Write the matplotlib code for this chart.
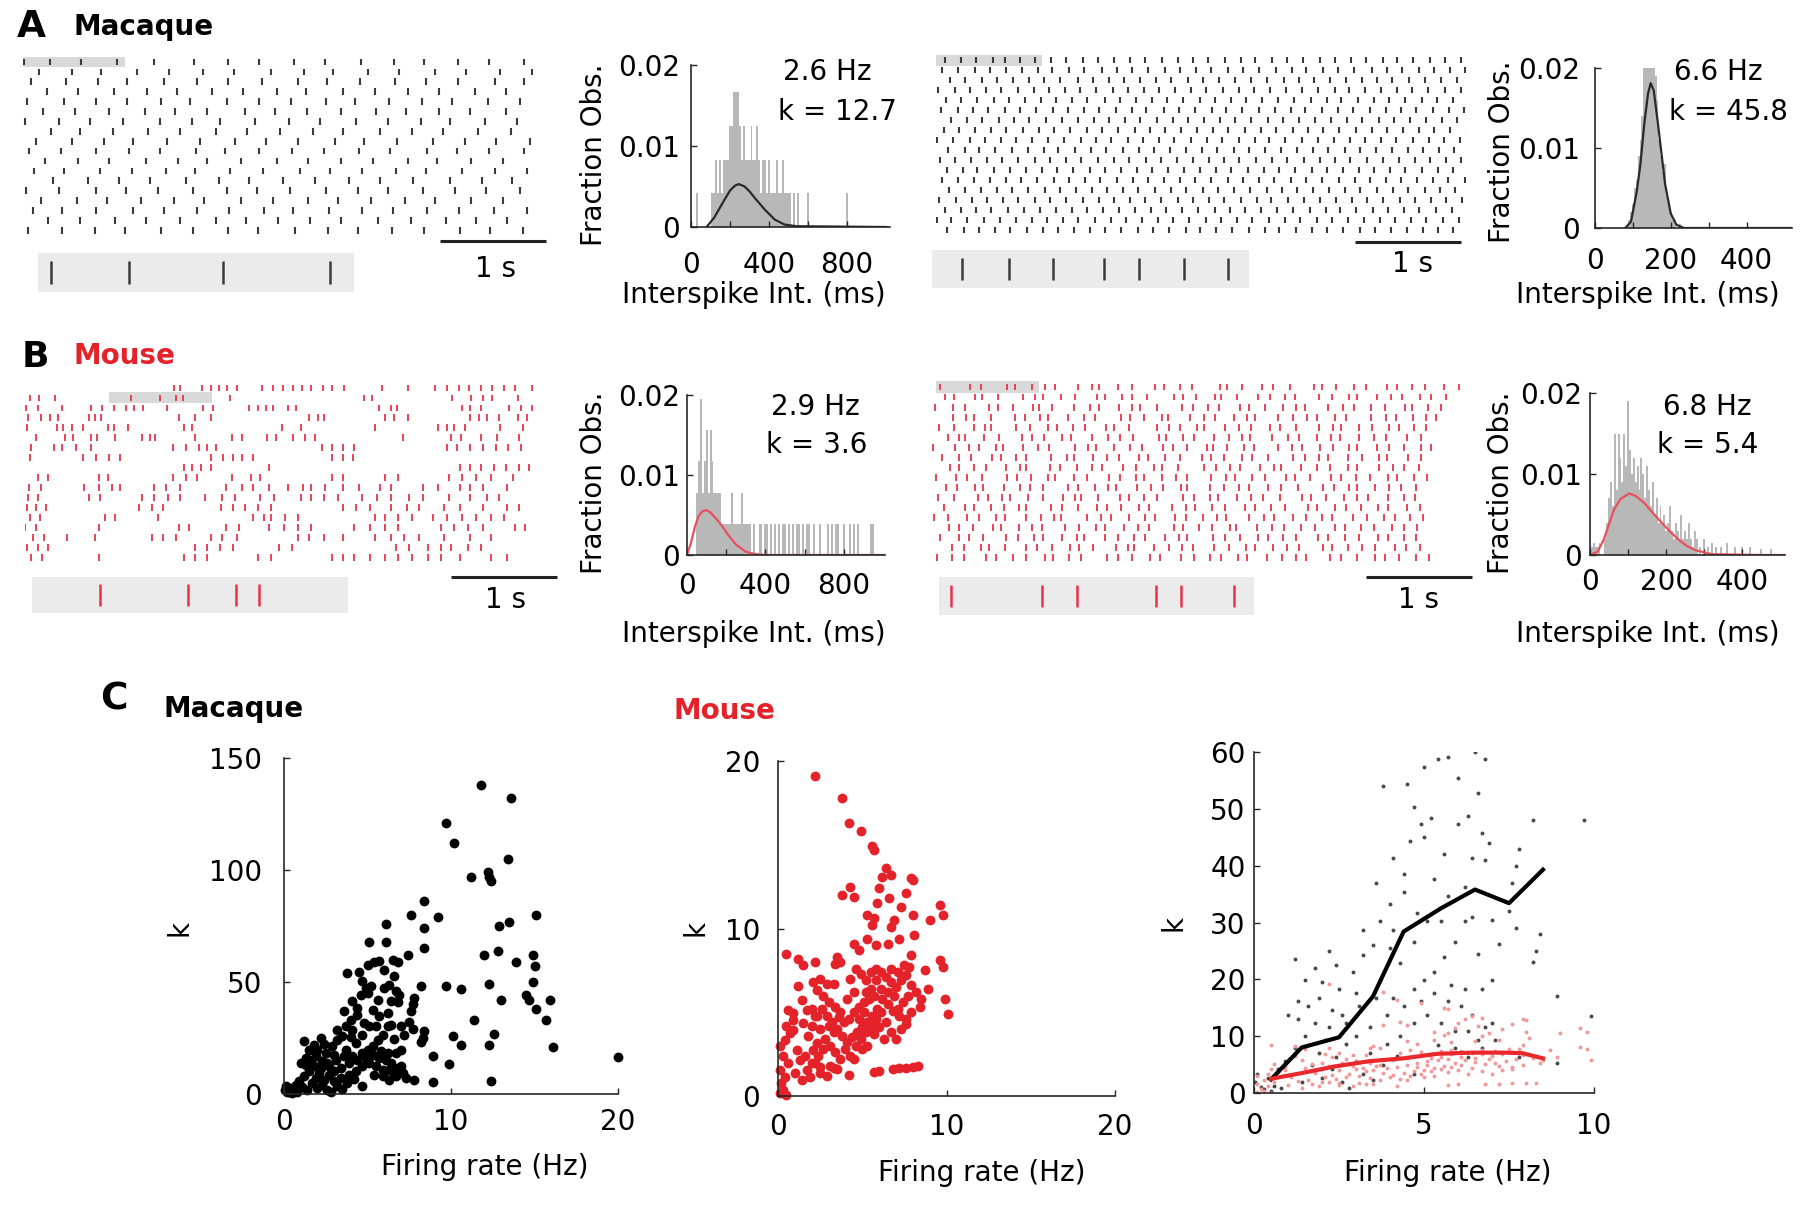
import matplotlib.pyplot as plt
import numpy as np
from matplotlib.patches import Rectangle

plt.rcParams['font.family'] = ['DejaVu Sans']
plt.rcParams['font.size'] = 20

W, H = 1800, 1209
RED = '#e3222a'

# ---------------- data ----------------
# A: macaque rasters, interspike intervals in ms (first value = first spike time)
mac_slow_isi = [
    "10 245 295 334 356 370 320 300 330 290 340 310 280 320 300 330",
    "150 310 280 340 300 320 290 350 310 270 330 300 340 290 320 300",
    "80 330 300 270 350 310 290 320 340 280 310 330 290 300 350 280",
    "230 290 340 310 280 330 300 320 270 350 300 310 290 340 300",
    "40 350 300 290 320 280 340 310 300 330 270 320 310 290 340 300",
    "190 300 320 340 280 310 350 290 300 320 330 280 310 300 340",
    "20 320 290 310 350 300 270 330 320 290 340 300 310 280 330 300",
    "260 280 310 330 300 340 290 310 320 280 350 300 290 330 310",
    "120 340 300 280 320 310 330 290 300 350 280 310 340 300 290 320",
    "60 300 330 310 290 340 280 320 310 300 330 290 350 280 310 330",
    "210 310 290 350 300 280 320 340 290 310 300 330 280 320 300",
    "100 290 340 300 320 270 330 310 350 290 300 320 280 340 310 300",
    "280 330 300 290 340 310 280 320 300 330 290 310 350 300 280",
    "30 310 350 280 300 330 320 290 310 340 300 280 330 310 290 320",
    "170 340 280 320 310 290 350 300 330 280 310 320 290 340 300",
    "90 280 320 350 290 310 300 330 280 340 310 290 320 300 330 310",
    "240 300 330 290 320 340 280 310 300 290 350 310 330 280 300",
    "50 320 310 280 340 300 330 290 350 310 280 320 300 340 290 310",
]
mac_fast_isi = [
    "85 151 141 161 113 141 142 150 145 160 135 155 150 140 165 145 150 135 160 150 140 155 145 150 160 140 150 145 155 135 150 160 145 150",
    "60 150 155 140 160 150 145 135 155 150 165 145 140 150 160 145 150 140 155 150 145 160 150 140 155 145 150 165 140 150 155 145 150 140",
    "130 140 160 150 145 155 140 150 165 145 150 140 155 150 145 160 140 150 155 145 150 160 145 140 150 155 145 150 140 160 150 145 155",
    "20 155 145 150 140 160 150 145 155 140 150 160 145 150 135 155 150 145 160 150 140 155 145 150 150 160 140 145 155 150 145 150 160 145",
    "90 145 150 160 140 150 155 145 150 140 165 150 145 155 140 150 160 145 150 140 155 150 145 160 150 140 155 150 145 150 160 140 150",
    "45 160 140 150 155 145 150 160 140 150 145 155 150 140 165 145 150 155 140 150 160 145 150 140 155 150 145 160 150 145 140 155 150 145",
    "140 150 145 155 150 140 160 145 150 155 140 150 145 160 150 140 155 150 145 150 160 140 150 155 145 150 140 160 150 145 155 150 140",
    "75 140 155 150 145 160 150 140 150 155 145 150 160 140 150 145 155 150 140 160 150 145 155 140 150 150 160 145 140 155 150 145 150 160",
    "10 150 160 145 150 140 155 150 145 160 140 150 155 145 150 140 160 150 145 155 150 140 150 160 145 150 155 140 150 145 160 150 140 155",
    "115 155 140 150 160 145 150 140 155 150 145 160 150 140 150 155 145 150 160 140 150 145 155 150 140 160 145 150 155 150 140 150 145",
    "35 145 150 155 140 150 160 145 150 140 155 150 145 160 140 150 150 155 145 140 160 150 145 155 150 140 150 160 145 150 155 140 150 145",
    "100 150 140 160 150 145 155 140 150 160 145 150 155 140 150 145 160 150 140 155 150 145 150 160 140 150 155 145 150 140 160 150 145",
    "55 155 150 145 160 140 150 155 145 150 140 160 150 145 155 150 140 150 160 145 150 140 155 150 145 160 150 140 155 145 150 150 140 160",
    "125 145 155 150 140 150 160 145 150 155 140 150 145 160 150 140 155 150 145 150 160 140 150 145 155 150 140 160 150 145 155 140 150",
    "30 160 145 150 150 140 155 150 145 160 150 140 155 145 150 160 140 150 145 155 150 140 160 150 145 150 155 140 150 160 145 150 140 155",
    "85 150 145 140 160 150 155 145 150 140 160 150 145 155 140 150 150 160 145 140 155 150 145 160 150 140 150 155 145 150 140 160 150",
    "5 140 150 160 145 150 155 140 150 145 160 150 140 155 150 145 150 160 140 150 145 155 150 140 160 150 145 155 150 140 150 145 160 150",
    "105 155 145 150 140 160 150 145 155 150 140 150 160 145 150 155 140 150 145 160 150 140 155 150 145 150 160 140 150 155 145 150 140",
]
# B: mouse rasters (slow cell: spike times in units of 10 ms; fast cell: intervals in ms)
mouse_slow_cs = [
    "141 146 167 175 183 191 200 224 234 243 253 261 270 281 290 301 337 361 387 398 409 419 430 441 452 462 478",
    "5 13 28 100 127 142 149 193 320 327 403 421 432 441 465",
    "1 12 35 62 73 84 95 103 111 134 168 177 211 220 227 234 248 256 334 345 351 412 420 430 457 468 478",
    "3 15 24 31 60 66 72 145 160 175 268 276 282 340 348 361 420 428 436 447 465 474",
    "2 30 36 44 55 78 84 97 150 158 242 260 330 390 398 405 415 448 470",
    "10 38 45 62 68 85 110 118 123 160 195 205 228 237 253 264 274 357 402 411 430 445 466",
    "6 27 35 48 62 140 152 164 172 180 280 290 300 310 398 408 420 432 444 456 468",
    "5 55 67 79 90 175 187 196 205 215 290 300 309",
    "150 158 166 175 230 410 420 430 442 454 466 475",
    "12 22 70 78 140 152 162 195 213 222 290 300 340 352 400 412 425 440 460",
    "4 15 56 70 82 90 122 133 146 190 205 215 230 248 262 270 283 300 315 335 345 375 390 410 420 432 455",
    "3 12 60 71 110 122 135 146 170 186 198 222 235 260 270 282 295 318 332 345 362 375 400 420 436 447",
    "2 10 20 108 120 130 185 196 208 220 232 300 312 325 345 360 372 395 410 432 455 466",
    "5 14 75 85 125 215 225 232 245 258 330 340 352 365 385 398 412 425 440 452",
    "0 10 70 145 155 190 202 230 244 258 270 310 325 340 352 392 405 418 432 462 472",
    "8 18 40 66 120 130 142 175 186 200 258 268 282 300 330 345 358 372 395 420 440",
    "2 12 22 160 172 184 196 240 252 350 362 380 392 402 418 430",
    "6 16 70 150 160 172 220 232 290 300 310 325 340 352 365 380 392 410 440 455",
]
mouse_fast_isi = [
    "74 282 107 245 76 164 120 95 210 140 60 180 130 220 90 150 110 260 70 140 190 100 160 230 80 130 170 110 200 90 150 120 180 140 130 150",
    "120 90 200 60 150 240 110 80 170 130 210 70 160 100 140 250 90 120 180 60 150 200 110 140 90 230 120 160 80 190 130 100 170 110 140",
    "30 170 110 230 80 140 190 60 120 210 150 90 180 130 70 160 240 100 140 110 200 80 150 170 120 90 220 140 100 160 130 190 70 150 120",
    "200 120 80 160 220 100 140 70 190 150 110 240 90 130 170 60 200 140 100 180 120 80 210 150 130 90 170 110 230 140 100 160 120 90",
    "70 140 190 100 60 230 130 170 90 150 110 200 80 140 260 120 100 160 70 190 140 110 180 90 150 220 130 80 170 120 160 100 140 110",
    "150 100 60 180 140 220 90 120 170 80 200 150 110 130 240 70 160 100 190 140 120 80 210 150 100 170 130 90 180 140 110 200 130",
    "10 210 130 90 160 70 190 140 100 250 120 80 170 150 110 200 90 140 180 60 130 160 100 220 140 90 170 120 150 80 190 110 140 160 100",
    "90 160 120 200 80 140 100 230 150 70 180 130 110 190 90 160 140 210 80 120 170 100 150 240 110 130 90 180 140 160 70 200 120",
    "170 80 150 110 190 130 60 220 100 160 140 90 200 120 170 80 150 250 110 130 100 180 140 60 190 150 120 170 90 210 130 100 140",
    "40 190 100 140 240 90 130 160 70 180 120 210 100 150 80 170 130 110 220 140 90 160 120 200 80 150 190 100 140 130 170 90 160 120",
    "130 110 170 70 200 150 90 130 230 100 160 120 80 190 140 110 170 60 210 130 150 90 180 120 160 240 100 140 80 170 130 110 150",
    "60 150 220 100 130 80 170 140 190 110 60 160 200 90 140 120 250 100 150 80 180 130 110 160 210 90 140 170 120 100 190 150 110",
    "110 200 90 160 120 140 70 230 110 150 180 90 130 170 100 210 140 80 160 120 190 100 150 130 220 80 170 110 140 160 90 180 120",
    "20 130 180 110 160 90 200 140 120 70 240 130 100 170 150 90 190 110 160 130 80 220 140 100 180 120 150 90 200 130 160 110 140 120",
    "160 90 140 190 70 170 120 100 210 140 160 80 180 130 110 230 90 150 120 170 60 200 140 110 160 130 190 100 150 120 170 110 130",
    "80 170 100 130 220 110 150 90 180 140 60 200 120 160 100 190 130 80 240 110 150 170 90 140 120 210 100 160 130 180 90 150 120",
    "190 110 160 80 150 200 100 140 170 90 130 220 110 60 180 150 120 100 200 140 160 90 170 130 110 230 80 150 140 120 190 100 130",
    "50 140 110 210 90 160 130 180 70 150 120 240 100 140 170 90 200 120 150 110 160 80 190 140 130 100 220 110 150 170 90 140 160 120",
]

# ISI histograms (ms, fraction of observations) and gamma fits
a1_ms = [30, 110, 120, 130, 140, 150, 160, 170, 180, 190, 200, 210, 220, 230, 240, 250, 260, 270,
         280, 290, 300, 310, 320, 330, 340, 350, 360, 370, 380, 390, 400, 410, 420, 430, 440, 450,
         460, 470, 480, 490, 500, 510, 530, 550, 600, 800]
a1_n = [1, 1, 1, 2, 1, 2, 1, 2, 2, 2, 3, 3, 4, 4, 4, 3, 2, 3,
        2, 2, 2, 3, 2, 2, 3, 2, 1, 2, 2, 1, 2, 1, 1, 1, 2, 1,
        1, 2, 1, 1, 1, 1, 1, 1, 1, 1]
a1_fit_ms = [80, 120, 170, 200, 225, 245, 275, 300, 330, 380, 430, 480, 540, 1000]
a1_fit = [0, 0.0012, 0.0033, 0.0045, 0.0051, 0.0053, 0.0050, 0.0044, 0.0035, 0.0021, 0.0009, 0.0003, 0.0001, 0]

a2_ms = [90, 95, 100, 105, 110, 115, 120, 125, 130, 135, 140, 145, 150, 155, 160, 165, 170, 175,
         180, 185, 190, 195, 200, 205, 210, 225]
a2_frac = [0.001, 0.002, 0.003, 0.005, 0.006, 0.009, 0.011, 0.014, 0.02, 0.021, 0.021, 0.021, 0.021,
           0.02, 0.019, 0.016, 0.011, 0.009, 0.007, 0.008, 0.004, 0.003, 0.002, 0.001, 0.001, 0.0005]
a2_fit_ms = [80, 95, 110, 120, 130, 140, 147, 155, 165, 175, 185, 200, 215, 235, 520]
a2_fit = [0, 0.0008, 0.0045, 0.008, 0.013, 0.0168, 0.0181, 0.0172, 0.0135, 0.0095, 0.0055, 0.0018, 0.0004, 0, 0]

b1_ms = [50, 60, 70, 80, 90, 100, 110, 120, 130, 140, 150, 160, 170, 180, 190, 200, 210, 220,
         230, 240, 250, 260, 270, 280, 290, 300, 310, 320, 340, 370, 380, 400, 410, 430, 450, 470,
         490, 500, 520, 540, 560, 570, 590, 610, 620, 650, 680, 720, 740, 760, 770, 800, 830, 850,
         870, 940, 950]
b1_n = [2, 3, 5, 2, 3, 4, 2, 4, 3, 2, 2, 2, 2, 1, 1, 1, 1, 1,
        2, 1, 1, 1, 1, 2, 1, 1, 1, 1, 1, 1, 1, 1, 1, 1, 1, 1,
        1, 1, 1, 1, 1, 1, 1, 1, 1, 1, 1, 1, 1, 1, 1, 1, 1, 1,
        1, 1, 1]
b1_fit_ms = [0, 20, 40, 60, 80, 100, 120, 150, 180, 210, 250, 300, 350, 400, 1010]
b1_fit = [0, 0.0015, 0.0035, 0.0049, 0.0055, 0.0056, 0.0053, 0.0045, 0.0036, 0.0025, 0.0013, 0.0004, 0.0001, 0, 0]

b2_ms = [0, 5, 10, 15, 20, 25, 40, 45, 50, 55, 60, 65, 70, 75, 80, 85, 90, 95, 100, 105, 110, 115,
         120, 125, 130, 135, 140, 145, 150, 155, 160, 165, 170, 175, 180, 185, 190, 195, 200, 205,
         210, 215, 220, 225, 230, 235, 240, 245, 250, 255, 260, 265, 270, 275, 280, 290, 300, 310,
         320, 330, 345, 360, 380, 400, 420, 450, 475]
b2_frac = [0.0015, 0.001, 0.0015, 0.001, 0.001, 0.0015, 0.002, 0.004, 0.007, 0.009, 0.006, 0.015,
           0.008, 0.015, 0.012, 0.009, 0.015, 0.011, 0.019, 0.013, 0.01, 0.012, 0.009, 0.011, 0.008,
           0.012, 0.01, 0.007, 0.011, 0.008, 0.006, 0.009, 0.005, 0.007, 0.004, 0.006, 0.004, 0.005,
           0.003, 0.004, 0.006, 0.003, 0.002, 0.004, 0.003, 0.002, 0.005, 0.002, 0.003, 0.002, 0.004,
           0.002, 0.001, 0.003, 0.002, 0.001, 0.002, 0.001, 0.0015, 0.001, 0.001, 0.0015, 0.001,
           0.001, 0.001, 0.0008, 0.0008]
b2_fit_ms = [0, 20, 36, 50, 63, 80, 103, 120, 143, 165, 188, 210, 232, 255, 276, 320, 450, 512]
b2_fit = [0, 0.0004, 0.0019, 0.0038, 0.0056, 0.0069, 0.0076, 0.0073, 0.0064, 0.0052, 0.004, 0.0029,
          0.0019, 0.0011, 0.0006, 0.0001, 0, 0]

# C: firing rate (Hz) vs gamma shape k
mac_pts = [
    (11.8, 138), (13.6, 132), (9.7, 121), (10.2, 112), (13.4, 105), (11.2, 97), (12.2, 99), (12.3, 97),
    (12.4, 95), (8.4, 86), (7.6, 80), (9.2, 79), (15.1, 80), (12.9, 75), (13.5, 77), (6.1, 76),
    (8.4, 74), (5.1, 68), (6.1, 68), (8.4, 65), (7.4, 62), (12.0, 62), (12.8, 64), (14.9, 62),
    (15.0, 57), (13.9, 59), (14.9, 50), (9.7, 48), (10.6, 47), (12.3, 49), (8.2, 48), (13.0, 42),
    (14.5, 44), (14.7, 42), (15.9, 42), (15.1, 38), (15.7, 33), (11.4, 33), (12.6, 27), (10.1, 26),
    (10.6, 22), (12.3, 22), (16.1, 21), (8.9, 17), (9.9, 13.5), (20.0, 16.5), (7.8, 6.4), (8.9, 5.2),
    (12.4, 6), (8.4, 28), (8.3, 25), (8.2, 23), (7.8, 43), (7.7, 40), (7.6, 37), (7.5, 32), (7.7, 29),
    (3.8, 54), (4.5, 54.3), (5.0, 57.4), (5.4, 58.8), (5.7, 59.2), (6.5, 60), (6.8, 58.8), (6.6, 52.8),
    (6.3, 48.8), (6.0, 47.3), (6.7, 45.8), (6.4, 41.4), (6.8, 41), (4.1, 41.4), (4.6, 44.3), (4.9, 47.3),
    (5.2, 48.4), (5.0, 45.1), (4.7, 50.3), (3.6, 36.9), (4.4, 35.4), (4.0, 33.2), (3.7, 30.2), (4.1, 28.7),
    (4.8, 31.7), (5.1, 30.2), (5.5, 30.2), (6.2, 30.2), (5.9, 26.5), (6.4, 31), (4.7, 26.5), (4.3, 22.8),
    (3.2, 24.3), (3.2, 28.7), (2.9, 21.3), (2.5, 18.3), (2.2, 25), (1.8, 22), (1.2, 23.5), (1.5, 19.8),
    (1.3, 16.1), (1.0, 13.8), (1.9, 16.8), (2.3, 14.6), (2.7, 12.4), (3.1, 15.3), (3.6, 16.8), (3.9, 13.8),
    (4.4, 15.3), (4.7, 18.3), (5.0, 19.8), (5.3, 17.6), (5.7, 16.1), (6.1, 15.3), (6.4, 13.8), (6.7, 18.3),
    (7.0, 19.8), (6.8, 11.6), (6.3, 10.9), (7.1, 9.4), (6.7, 7.9), (6.3, 6.4), (5.9, 10.9), (5.5, 12.4),
    (5.1, 13.8), (4.7, 12.4), (4.3, 10.1), (3.9, 8.6), (3.8, 4.9), (4.7, 3.4), (3.4, 7.1), (3.0, 5.7),
    (2.7, 8.6), (2.4, 6.4), (2.1, 9.4), (1.8, 12.4), (1.5, 10.1), (1.2, 7.9), (0.9, 5.7), (0.7, 4.2),
    (0.4, 2.7), (0.1, 3.4), (0.04, 1.9), (0.3, 0.7), (0.6, 1.2), (1.1, 3.1), (1.7, 4.9), (2.0, 2.7),
    (2.3, 4.2), (2.6, 1.9), (3.2, 3.4), (1.9, 7.1), (2.6, 13.8), (3.0, 17.6), (3.4, 11.6), (3.7, 19.8),
    (1.3, 13.1), (1.6, 15.3), (2.2, 11.6), (3.0, 10.1), (4.1, 16.8), (4.9, 16.1), (5.3, 21.3), (5.8, 19),
    (6.2, 18.3), (6.6, 9.4), (7.0, 12.4), (7.3, 7.1), (5.9, 7.9), (6.2, 36.2), (5.7, 34.7), (5.3, 37.6),
    (0.2, 1.0), (0.5, 0.3), (0.8, 0.8), (1.4, 2.0), (2.8, 0.8), (3.5, 2.3), (4.2, 6.5), (5.4, 8.5),
    (5.6, 24), (6.6, 24.5), (7.2, 26.2), (2.0, 19.5), (2.4, 22.5), (3.5, 26), (4.0, 25.5), (4.4, 38.5),
    (5.6, 42), (6.0, 55.5), (6.9, 44), (7.0, 30.5),
]
mouse_pts = [
    (2.2, 19.1), (3.8, 17.8), (4.2, 16.3), (4.9, 15.8), (5.6, 14.9), (5.7, 14.7), (6.4, 13.6), (6.2, 13.1),
    (6.7, 13.2), (7.9, 13.0), (8.0, 12.9), (4.3, 12.5), (3.8, 12.0), (4.5, 11.9), (6.0, 12.4), (6.6, 11.8),
    (7.6, 12.1), (5.9, 11.5), (7.3, 11.3), (9.6, 11.4), (9.8, 10.8), (8.0, 10.8), (9.0, 10.5), (5.3, 10.8),
    (5.7, 10.6), (5.6, 10.2), (6.9, 10.5), (6.7, 10.1), (5.3, 9.4), (5.8, 9.0), (8.1, 9.6), (4.5, 9.1),
    (4.8, 8.7), (7.2, 9.4), (6.5, 9.1), (0.5, 8.5), (1.2, 8.2), (1.5, 7.8), (2.2, 8.0), (3.5, 8.3),
    (3.7, 8.0), (3.4, 7.9), (7.9, 8.4), (7.8, 7.7), (9.6, 8.1), (9.8, 7.7), (8.7, 7.5), (9.9, 5.8),
    (10.1, 4.9), (5.7, 1.45), (6.0, 1.5), (6.8, 1.6), (7.2, 1.65), (7.6, 1.7), (8.0, 1.75), (8.3, 1.8),
    (4.2, 1.25), (3.3, 1.65), (2.5, 1.75), (1.9, 1.15),
    (0.1, 0.16), (0.3, 0.36), (0.5, 0.06), (0.2, 0.76), (0.4, 1.16), (0.1, 1.56), (0.6, 1.96), (0.3, 2.36),
    (0.1, 2.96), (0.4, 3.36), (0.7, 3.76), (0.5, 4.16), (0.9, 4.56), (0.6, 5.16), (0.9, 3.96), (1.1, 2.76),
    (1.3, 2.16), (1.0, 1.36), (1.4, 0.96), (1.7, 1.56), (1.6, 2.36), (2.0, 1.96), (2.1, 2.76), (2.3, 3.16),
    (1.8, 3.56), (2.0, 4.16), (2.2, 4.76), (1.7, 5.16), (1.4, 5.76), (1.2, 6.56), (0.9, 4.96), (1.5, 4.36),
    (2.1, 6.8), (2.5, 7.0), (2.9, 6.7), (3.3, 6.7), (2.3, 6.3), (2.7, 6.0), (3.0, 5.6), (3.4, 5.3),
    (3.7, 5.0), (4.1, 5.8), (4.5, 6.2), (4.3, 7.0), (4.6, 7.6), (4.9, 7.3), (5.2, 6.9), (5.5, 7.4),
    (5.8, 7.6), (6.1, 7.4), (6.4, 7.1), (6.7, 6.8), (7.0, 6.5), (7.3, 6.9), (7.6, 7.2), (7.9, 6.6),
    (8.2, 6.2), (8.5, 5.8), (8.9, 6.4), (8.4, 5.3), (7.9, 5.0), (7.6, 4.3), (7.2, 4.8), (6.8, 5.1),
    (6.5, 5.5), (6.2, 5.8), (5.9, 5.2), (5.6, 4.8), (5.3, 4.4), (5.0, 4.1), (4.7, 3.8), (4.4, 3.5),
    (4.1, 3.2), (3.8, 3.6), (3.5, 4.0), (3.2, 4.4), (2.9, 4.8), (2.6, 5.2), (2.3, 4.8), (2.0, 5.2),
    (2.5, 4.0), (2.8, 3.4), (3.1, 3.0), (3.4, 2.6), (3.7, 2.2), (4.0, 2.8), (4.3, 2.4), (4.6, 3.0),
    (4.9, 3.4), (5.2, 3.8), (5.5, 4.2), (5.8, 4.6), (6.1, 5.0), (6.4, 4.4), (6.7, 3.8), (7.0, 3.4),
    (7.3, 4.0), (7.6, 4.6), (5.7, 6.0), (5.4, 5.8), (5.1, 5.6), (4.8, 5.3), (4.5, 5.0), (4.2, 4.6),
    (3.9, 4.4), (3.6, 4.7), (3.3, 3.8), (3.0, 4.2), (2.7, 2.8), (2.4, 2.4), (2.2, 2.0), (2.5, 1.4),
    (2.9, 1.2), (3.1, 1.8), (3.5, 1.6), (4.5, 2.2), (5.0, 2.8), (5.3, 3.0), (5.7, 3.7), (6.0, 4.1),
    (6.3, 3.4), (5.1, 5.0), (4.8, 4.6), (6.1, 6.4), (6.5, 6.2), (6.9, 6.0), (5.5, 6.4), (5.2, 6.2),
    (5.8, 6.9), (6.7, 7.6), (7.1, 7.4), (7.5, 7.8), (7.7, 6.0), (7.4, 5.6), (7.1, 5.2),
]
mac_bin_rate = [0.5, 1.4, 2.5, 3.5, 4.4, 5.5, 6.5, 7.5, 8.5]
mac_bin_k = [2.4, 8.0, 9.8, 17.0, 28.4, 32.5, 35.8, 33.4, 39.3]
mouse_bin_rate = [0.5, 1.4, 2.4, 3.4, 4.4, 5.4, 6.4, 7.4, 7.9, 8.5]
mouse_bin_k = [2.5, 3.5, 4.7, 5.6, 6.1, 6.9, 7.1, 7.1, 7.0, 6.1]

# ---------------- figure ----------------
fig = plt.figure(figsize=(W / 100, H / 100), dpi=100)
SEC = 106.0  # pixels per second in rasters


def px_ax(x0, y0, x1, y1):
    return fig.add_axes([x0 / W, 1 - y1 / H, (x1 - x0) / W, (y1 - y0) / H])


def ftext(x, y, s, **kw):
    fig.text(x / W, 1 - y / H, s, **kw)


def raster(rows, x0, x1, y0, dy, color, lw, bar_row, bar_t, box, sb_x0, sb_y, sec_xy):
    ax = px_ax(x0, y0 - dy, x1, y0 + 19 * dy)
    ax.set_xlim(0, (x1 - x0) / SEC)
    ax.set_ylim(19, -1)
    ax.axis('off')
    ax.eventplot(rows, lineoffsets=np.arange(len(rows)), linelengths=0.68,
                 colors=color, linewidths=lw)
    ax.add_patch(Rectangle((bar_t[0], bar_row - 0.55), bar_t[1] - bar_t[0], 1.1,
                           facecolor='#d9d9d9', edgecolor='none', zorder=0))
    t0 = (sb_x0 - x0) / SEC
    yb = (sb_y - y0) / dy
    ax.plot([t0, t0 + 1], [yb, yb], color='#222222', lw=2.2, solid_capstyle='butt', clip_on=False)
    ftext(sec_xy[0], sec_xy[1], '1 s', ha='center', va='center')

    bx = px_ax(*box)
    bx.set_facecolor('#ebebeb')
    for s in bx.spines.values():
        s.set_visible(False)
    bx.set_xticks([])
    bx.set_yticks([])
    bx.set_xlim(bar_t)
    bx.set_ylim(0, 1)
    sp = rows[bar_row]
    sel = sp[(sp >= bar_t[0]) & (sp <= bar_t[1])]
    bx.vlines(sel, 0.2, 0.8, colors=color, lw=1.8)


def style(ax, xpad, ypad):
    for s in ['top', 'right']:
        ax.spines[s].set_visible(False)
    for s in ['left', 'bottom']:
        ax.spines[s].set_linewidth(1.2)
        ax.spines[s].set_color('#262626')
    ax.tick_params(direction='in', length=4, width=1, labelsize=20, color='#262626')
    ax.tick_params(axis='x', pad=xpad)
    ax.tick_params(axis='y', pad=ypad)


def hist(pos, ms, frac, width, fit_ms, fit, fit_color, xmax, xticks, xlabels,
         txt, txt_xy, ylab_xy, xlab_xy, xpad, ypad):
    ax = px_ax(*pos)
    ax.bar(ms, frac, width=width, color='#b8b8b8', linewidth=0)
    ax.plot(fit_ms, fit, color=fit_color, lw=1.6)
    ax.set_xlim(0, xmax)
    ax.set_ylim(0, 0.02)
    ax.set_yticks([0, 0.01, 0.02])
    ax.set_yticklabels(['0', '0.01', '0.02'])
    ax.set_xticks(xticks)
    ax.set_xticklabels(xlabels)
    style(ax, xpad, ypad)
    ftext(txt_xy[0][0], txt_xy[0][1], txt[0], ha='center', va='center')
    ftext(txt_xy[1][0], txt_xy[1][1], txt[1], ha='center', va='center')
    ftext(ylab_xy[0], ylab_xy[1], 'Fraction Obs.', rotation=90, ha='center', va='center')
    ftext(xlab_xy[0], xlab_xy[1], 'Interspike Int. (ms)', ha='center', va='center')


mac_slow = [np.cumsum(np.array(r.split(), float)) / 1000 for r in mac_slow_isi]
mac_fast = [np.cumsum(np.array(r.split(), float)) / 1000 for r in mac_fast_isi]
mouse_slow = [np.array(r.split(), float) / 100 for r in mouse_slow_cs]
mouse_fast = [np.cumsum(np.array(r.split(), float)) / 1000 for r in mouse_fast_isi]

# panel labels
ftext(17, 27, 'A', fontsize=27, fontweight='bold', va='center')
ftext(73, 27, 'Macaque', fontsize=20, fontweight='bold', va='center')
ftext(22, 357, 'B', fontsize=26, fontweight='bold', va='center')
ftext(73, 356, 'Mouse', fontsize=20, fontweight='bold', va='center', color=RED)
ftext(100, 700, 'C', fontsize=27, fontweight='bold', va='center')
ftext(163, 709, 'Macaque', fontsize=20, fontweight='bold', va='center')
ftext(673, 711, 'Mouse', fontsize=20, fontweight='bold', va='center', color=RED)

# rasters
raster(mac_slow, 23, 553, 62, 9.9, '#3a3a3a', 1.5, 0, (-0.03, 0.96),
       (38, 253, 354, 292), 440, 241, (495, 269))
raster(mac_fast, 936, 1466, 60, 10.0, '#3a3a3a', 1.5, 0, (-0.01, 1.0),
       (932, 250, 1249, 288), 1355, 242, (1412, 264))
raster(mouse_slow, 25, 560, 388, 9.95, '#e8344a', 1.3, 1, (0.79, 1.764),
       (32, 577, 348, 613), 451, 577, (506, 600))
raster(mouse_fast, 932, 1466, 387, 10.05, '#e8344a', 1.3, 0, (0.038, 1.009),
       (939, 577, 1254, 615), 1366, 577, (1419, 600))

# ISI histograms
hist((691, 65, 890, 227), a1_ms, np.array(a1_n) / 240, 10, a1_fit_ms, a1_fit, '#2a2a2a',
     1020, [0, 200, 400, 600, 800], ['0', '', '400', '', '800'],
     ('2.6 Hz', 'k = 12.7'), ((827, 72), (837, 112)), (594, 155), (754, 295), 17, 8)
hist((1595, 68, 1792, 228), a2_ms, a2_frac, 5, a2_fit_ms, a2_fit, '#2a2a2a',
     520, [0, 100, 200, 300, 400], ['0', '', '200', '', '400'],
     ('6.6 Hz', 'k = 45.8'), ((1718, 72), (1728, 112)), (1502, 152), (1648, 295), 14, 11)
hist((687, 395, 885, 555), b1_ms, np.array(b1_n) / 256, 10, b1_fit_ms, b1_fit, '#e8505f',
     1010, [0, 200, 400, 600, 800], ['0', '', '400', '', '800'],
     ('2.9 Hz', 'k = 3.6'), ((815, 407), (817, 445)), (594, 483), (754, 634), 12, 5)
hist((1590, 393, 1785, 555), b2_ms, b2_frac, 5, b2_fit_ms, b2_fit, '#e8505f',
     512, [0, 100, 200, 300, 400], ['0', '', '200', '', '400'],
     ('6.8 Hz', 'k = 5.4'), ((1707, 407), (1708, 445)), (1501, 483), (1648, 634), 9, 6)

mac = np.array(mac_pts)
mouse = np.array(mouse_pts)

# C macaque
ax = px_ax(284, 758, 618, 1094)
ax.scatter(mac[:, 0], mac[:, 1], s=50, color='black', linewidths=0, clip_on=False)
ax.set_xlim(0, 20)
ax.set_ylim(0, 150)
ax.set_xticks([0, 10, 20])
ax.set_yticks([0, 50, 100, 150])
style(ax, 10, 16)
ftext(180, 928, 'k', rotation=90, ha='center', va='center')
ftext(485, 1167, 'Firing rate (Hz)', ha='center', va='center')

# C mouse
ax = px_ax(778, 761, 1115, 1096)
ax.scatter(mouse[:, 0], mouse[:, 1], s=50, color=RED, linewidths=0, clip_on=False)
ax.set_xlim(0, 20)
ax.set_ylim(0, 20)
ax.set_xticks([0, 10, 20])
ax.set_yticks([0, 10, 20])
style(ax, 12, 13)
ftext(695, 928, 'k', rotation=90, ha='center', va='center')
ftext(982, 1173, 'Firing rate (Hz)', ha='center', va='center')

# C combined
ax = px_ax(1254, 752, 1594, 1093)
ax.scatter(mac[:, 0], mac[:, 1], s=8, color='#4a4a4a', linewidths=0)
ax.scatter(mouse[:, 0], mouse[:, 1], s=8, color='#f09a9a', linewidths=0)
ax.plot(mac_bin_rate, mac_bin_k, color='black', lw=3)
ax.plot(mouse_bin_rate, mouse_bin_k, color='#e8282b', lw=3)
ax.set_xlim(0, 10)
ax.set_ylim(0, 60)
ax.set_xticks([0, 5, 10])
ax.set_yticks([0, 10, 20, 30, 40, 50, 60])
style(ax, 14, 6)
ftext(1173, 923, 'k', rotation=90, ha='center', va='center')
ftext(1448, 1173, 'Firing rate (Hz)', ha='center', va='center')

fig.savefig('out.png', dpi=100, facecolor='white')
